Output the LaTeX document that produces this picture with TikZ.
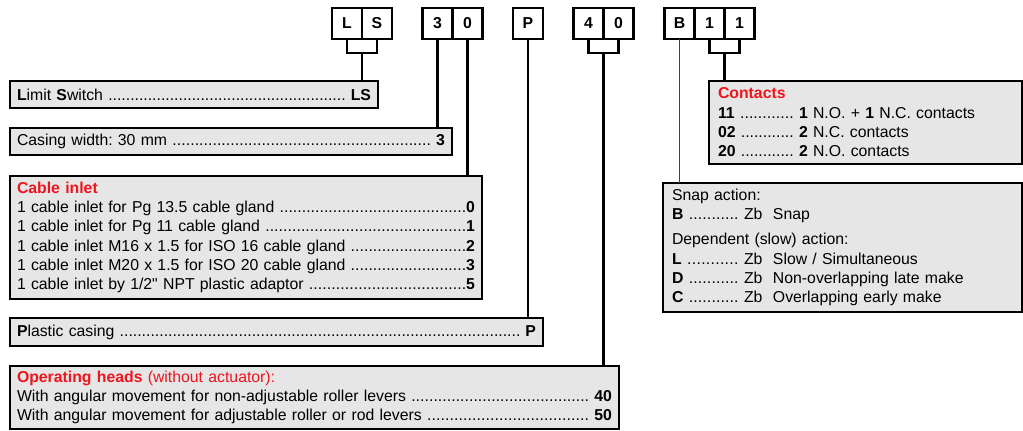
\documentclass[tikz,border=0pt]{standalone}
\usepackage{fontspec}
\setmainfont{Liberation Sans}
\usetikzlibrary{calc,positioning}
\definecolor{boxgray}{RGB}{230,230,230}
\definecolor{inred}{RGB}{240,20,30}
\frenchspacing
\newcommand\leaderdots{\xleaders\hbox{.}\hfill}
\newcommand\contactcode[1]{\makebox[81pt][l]{\textbf{#1} \leaderdots\ }}
\newcommand\actioncode[1]{\makebox[72pt][l]{\textbf{#1} \leaderdots\ }}

\begin{document}
\begin{tikzpicture}[x=1pt, y=-1pt,
  cell/.style={draw, line width=2.2pt, minimum width=30pt, minimum height=31pt, inner sep=0pt, outer sep=0pt, font=\fontsize{15.8}{19}\selectfont\bfseries},
  box/.style={draw, line width=2.3pt, fill=boxgray, anchor=north west, outer sep=0pt, inner xsep=7pt, inner ysep=0pt, align=left, font=\fontsize{15.8}{19.3}\selectfont},
  wire/.style={line width=2.2pt}]
  \useasboundingbox (0,0) rectangle (1023,431);

  \node[cell] (l) at (347,23.5) {L};
  \node[cell, right=0pt of l] (s) {S};
  \node[cell] (w3) at (437.5,23.5) {3};
  \node[cell, right=0pt of w3] (w0) {0};
  \node[cell] (p) at (528,23.5) {P};
  \node[cell] (h4) at (588.5,23.5) {4};
  \node[cell, right=0pt of h4] (h0) {0};
  \node[cell] (b) at (679.5,23.5) {B};
  \node[cell, right=0pt of b] (c1) {1};
  \node[cell, right=0pt of c1] (c2) {1};

  \node[box, text width=354pt, minimum height=27pt] (lsbox) at (10,81)
    {\textbf{L}imit \textbf{S}witch \leaderdots\ \textbf{LS}};
  \node[box, text width=428pt, minimum height=27pt] (widthbox) at (10,128)
    {Casing width: 30 mm \leaderdots\ \textbf{3}};
  \node[box, text width=458pt, minimum height=123pt] (inletbox) at (10,176)
    {{\color{inred}\bfseries Cable inlet}\\
     1 cable inlet for Pg 13.5 cable gland \leaderdots\textbf{0}\\
     1 cable inlet for Pg 11 cable gland \leaderdots\textbf{1}\\
     1 cable inlet M16 x 1.5 for ISO 16 cable gland \leaderdots\textbf{2}\\
     1 cable inlet M20 x 1.5 for ISO 20 cable gland \leaderdots\textbf{3}\\
     1 cable inlet by 1/2\textquotedbl{} NPT plastic adaptor \leaderdots\textbf{5}};
  \node[box, text width=519pt, minimum height=28pt] (casingbox) at (10,318)
    {\textbf{P}lastic casing \leaderdots\ \textbf{P}};
  \node[box, text width=595pt, minimum height=63pt] (headbox) at (10,366)
    {{\color{inred}\bfseries Operating heads} {\color{inred}(without actuator):}\\
     With angular movement for non-adjustable roller levers \leaderdots\ \textbf{40}\\
     With angular movement for adjustable roller or rod levers \leaderdots\ \textbf{50}};
  \node[box, inner xsep=9pt, text width=295pt, minimum height=83pt] (contactbox) at (709,81)
    {{\color{inred}\bfseries Contacts}\\
     \contactcode{11}\textbf{1} N.O. + \textbf{1} N.C. contacts\\
     \contactcode{02}\textbf{2} N.C. contacts\\
     \contactcode{20}\textbf{2} N.O. contacts};
  \node[box, inner xsep=9pt, text width=341pt, minimum height=129pt] (actionbox) at (663,183)
    {Snap action:\\
     \actioncode{B}Zb\ \ Snap\\[6pt]
     Dependent (slow) action:\\
     \actioncode{L}Zb\ \ Slow / Simultaneous\\
     \actioncode{D}Zb\ \ Non-overlapping late make\\
     \actioncode{C}Zb\ \ Overlapping early make};

  \draw[wire] (l.south) -- ++(0,14) -| (s.south);
  \coordinate (lsmid) at ($(l.south)!.5!(s.south)+(0,14)$);
  \draw[wire] (lsmid) -- (lsmid |- lsbox.north);
  \draw[wire] (w3.south) -- (w3.south |- widthbox.north);
  \draw[wire] (w0.south) -- (w0.south |- inletbox.north);
  \draw[wire] (p.south) -- (p.south |- casingbox.north);
  \draw[wire] (h4.south) -- ++(0,14) -| (h0.south);
  \coordinate (hdmid) at ($(h4.south)!.5!(h0.south)+(0,14)$);
  \draw[wire] (hdmid) -- (hdmid |- headbox.north);
  \draw[line width=1pt, black!75] (b.south) -- (b.south |- actionbox.north);
  \draw[wire] (c1.south) -- ++(0,14) -| (c2.south);
  \coordinate (ctmid) at ($(c1.south)!.5!(c2.south)+(0,14)$);
  \draw[wire] (ctmid) -- (ctmid |- contactbox.north);
\end{tikzpicture}
\end{document}
